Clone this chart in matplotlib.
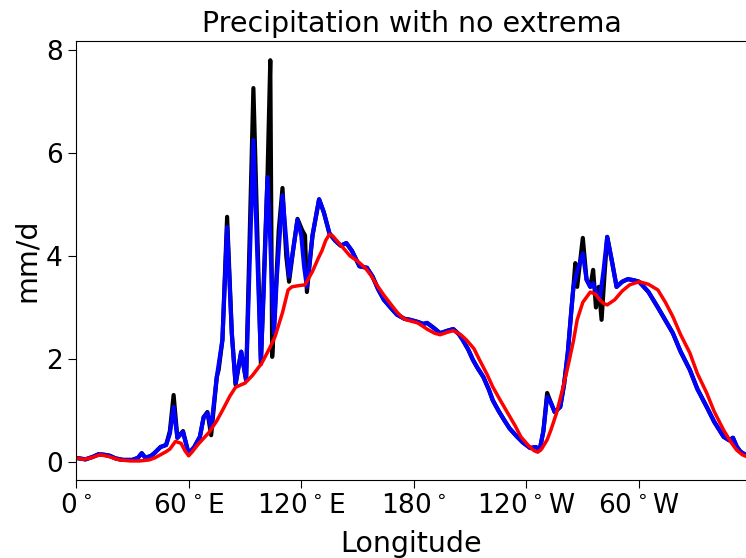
import numpy as np
import matplotlib
matplotlib.use('Agg')
import matplotlib.pyplot as plt

### Data (longitude in degrees east, precipitation in mm/d)
# Raw field (black)
raw_lon = [0, 5, 9, 12, 15, 18, 21, 25, 30, 33, 35, 37, 40, 42, 45, 48, 50,
           52, 54, 57, 60, 63, 66, 68, 70, 72, 75, 76, 78, 80.5, 83, 85, 88,
           90.6, 94.5, 98.5, 100, 102, 103.5, 104.5, 106, 108, 110, 112,
           113.5, 116, 118, 120.5, 122, 123, 126, 129.5, 132, 135, 138, 141,
           144, 147, 151, 155, 158, 161, 164, 168, 171, 175, 178, 182, 185,
           187, 190, 194, 198, 201, 204, 206, 209, 211.5, 214, 217, 220, 222,
           225, 228, 231, 235, 238, 242, 245, 247, 249, 251, 253, 255, 258,
           260, 262, 264, 265, 266, 267, 270, 272, 274, 275.5, 277, 278.5,
           280, 281.5, 283, 285.5, 288, 291, 294, 297, 300, 305, 310, 314,
           318, 322, 327, 331, 336, 340, 345, 348, 350, 352, 354, 357.5]
raw_val = [0.08, 0.05, 0.1, 0.15, 0.14, 0.12, 0.07, 0.04, 0.04, 0.08, 0.17,
           0.08, 0.12, 0.18, 0.29, 0.33, 0.6, 1.3, 0.47, 0.6, 0.15, 0.29,
           0.49, 0.87, 0.97, 0.52, 1.65, 1.79, 2.37, 4.76, 2.5, 1.5, 2.14,
           1.59, 7.26, 1.9, 3.5, 5.53, 7.8, 2.04, 3.0, 4.5, 5.32, 4.0, 3.5,
           4.2, 4.72, 4.5, 4.4, 3.3, 4.4, 5.1, 4.85, 4.44, 4.3, 4.2, 4.25,
           4.1, 3.8, 3.77, 3.6, 3.35, 3.15, 2.98, 2.86, 2.78, 2.76, 2.72,
           2.68, 2.7, 2.62, 2.5, 2.55, 2.58, 2.48, 2.37, 2.18, 1.98, 1.82,
           1.65, 1.4, 1.2, 1.0, 0.82, 0.65, 0.49, 0.38, 0.27, 0.29, 0.23,
           0.6, 1.34, 1.15, 0.97, 1.07, 1.5, 2.12, 3.0, 3.4, 3.86, 3.4, 4.35,
           3.54, 3.4, 3.73, 3.0, 3.4, 2.76, 3.6, 4.37, 3.9, 3.4, 3.5, 3.55,
           3.53, 3.5, 3.3, 3.0, 2.75, 2.5, 2.15, 1.79, 1.42, 1.07, 0.78, 0.49,
           0.42, 0.47, 0.3, 0.2, 0.12]

# Lightly filtered field (blue)
mid_lon = [0, 5, 9, 12, 15, 18, 21, 25, 30, 33, 35, 37, 40, 42, 45, 48, 50,
           52, 54, 57, 60, 63, 66, 68, 70, 72, 75, 78, 80.5, 83, 85, 88, 90.6,
           94.5, 98.5, 100, 102, 103.5, 104.5, 105.5, 107, 110, 112, 113.5,
           116, 118, 120, 121.5, 123, 126, 129.5, 132, 135, 138, 141, 144,
           147, 151, 155, 158, 161, 164, 168, 171, 175, 178, 182, 185, 187,
           190, 194, 198, 201, 204, 206, 209, 211.5, 214, 217, 220, 222, 225,
           228, 231, 235, 238, 242, 245, 247, 249, 251, 253, 255, 258, 260,
           262, 265, 267, 270, 272, 274, 275.5, 277, 279, 281, 283, 285.5,
           288, 291, 294, 297, 300, 305, 310, 314, 318, 322, 327, 331, 336,
           340, 345, 348, 350, 352, 354, 357.5]
mid_val = [0.08, 0.05, 0.1, 0.15, 0.14, 0.12, 0.07, 0.04, 0.04, 0.08, 0.17,
           0.08, 0.12, 0.18, 0.29, 0.33, 0.55, 1.07, 0.47, 0.58, 0.17, 0.29,
           0.49, 0.87, 0.95, 0.66, 1.65, 2.37, 4.56, 2.5, 1.53, 2.14, 1.59,
           6.25, 1.98, 3.3, 5.53, 4.3, 3.3, 2.5, 3.6, 5.18, 4.3, 3.6, 4.2,
           4.7, 4.4, 3.8, 3.4, 4.4, 5.1, 4.85, 4.44, 4.3, 4.2, 4.25, 4.1, 3.8,
           3.77, 3.6, 3.35, 3.15, 2.98, 2.86, 2.78, 2.76, 2.72, 2.68, 2.7,
           2.62, 2.5, 2.55, 2.58, 2.48, 2.37, 2.18, 1.98, 1.82, 1.65, 1.4,
           1.2, 1.0, 0.82, 0.65, 0.49, 0.38, 0.27, 0.29, 0.23, 0.6, 1.26,
           1.15, 0.97, 1.07, 1.5, 2.12, 3.4, 3.7, 4.05, 3.54, 3.4, 3.47, 3.3,
           3.15, 3.7, 4.37, 3.9, 3.4, 3.5, 3.55, 3.53, 3.5, 3.3, 3.0, 2.75,
           2.5, 2.15, 1.79, 1.42, 1.07, 0.78, 0.49, 0.42, 0.47, 0.3, 0.2,
           0.12]

# Heavily filtered field (red)
smo_lon = [0, 4, 8, 13, 18, 23, 29, 34, 39, 42, 45, 48, 50, 53, 56, 58, 60,
           62, 65, 68, 71, 75, 78, 82, 85, 88, 90, 94, 99, 103, 106, 110, 113,
           115, 118, 122, 126, 129, 131, 133, 135, 137, 140, 142, 146, 150,
           154, 157, 160, 164, 168, 171, 174, 176, 179, 182, 185, 187, 191,
           194, 198, 201, 205, 208, 212, 215, 219, 222, 226, 230, 234, 237,
           241, 244, 246, 248, 251, 253, 256, 259, 262, 265, 267, 270, 274,
           277, 279, 281, 283, 287, 291, 295, 300, 305, 310, 314, 318, 322,
           327, 331, 336, 340, 345, 349, 352, 355, 357.5]
smo_val = [0.08, 0.05, 0.08, 0.14, 0.1, 0.04, 0.02, 0.02, 0.04, 0.08, 0.14,
           0.2, 0.25, 0.4, 0.36, 0.22, 0.12, 0.2, 0.34, 0.46, 0.58, 0.8, 1.0,
           1.28, 1.45, 1.5, 1.53, 1.68, 1.92, 2.2, 2.43, 2.9, 3.34, 3.4, 3.42,
           3.44, 3.7, 3.95, 4.1, 4.3, 4.42, 4.38, 4.25, 4.17, 4.0, 3.9, 3.77,
           3.63, 3.45, 3.24, 3.05, 2.91, 2.8, 2.76, 2.73, 2.7, 2.63, 2.58,
           2.5, 2.47, 2.52, 2.55, 2.47, 2.37, 2.2, 1.98, 1.7, 1.46, 1.2, 0.95,
           0.7, 0.49, 0.32, 0.22, 0.19, 0.25, 0.43, 0.62, 0.95, 1.38, 1.84,
           2.35, 2.76, 3.1, 3.3, 3.25, 3.15, 3.08, 3.05, 3.15, 3.32, 3.44,
           3.5, 3.45, 3.34, 3.1, 2.82, 2.48, 2.12, 1.72, 1.34, 0.98, 0.62,
           0.38, 0.23, 0.14, 0.1]

tick_pos = [0, 60, 120, 180, 240, 300]
tick_lab = ['$0\\,{}^{\\circ}$', '$60\\,{}^{\\circ}\\,\\mathrm{E}$',
            '$120\\,{}^{\\circ}\\,\\mathrm{E}$', '$180\\,{}^{\\circ}$',
            '$120\\,{}^{\\circ}\\,\\mathrm{W}$', '$60\\,{}^{\\circ}\\,\\mathrm{W}$']

### Plot
plt.rcParams['font.size'] = 19
plt.rcParams['mathtext.fontset'] = 'dejavusans'
plt.rcParams['mathtext.default'] = 'regular'
fig = plt.figure(figsize=(7.46, 5.58), dpi=100)
ax = fig.add_axes([0.1019, 0.1398, 0.8995, 0.7873])

ax.plot(raw_lon, raw_val, '-', color='k', lw=3)
ax.plot(mid_lon, mid_val, '-', color='b', lw=3)
ax.plot(smo_lon, smo_val, '-', color='r', lw=2.5)

ax.set_xlim(0, 357.5)
ax.set_ylim(-0.35, 8.18)
ax.set_xticks(tick_pos)
ax.set_xticklabels(tick_lab)
ax.set_yticks([0, 2, 4, 6, 8])
ax.tick_params(length=6)
ax.set_xlabel('Longitude', fontsize=20.5, labelpad=8)
ax.set_ylabel('mm/d', fontsize=20.5)
ax.set_title('Precipitation with no extrema', fontsize=20.5)

fig.savefig('out.png', dpi=100)
